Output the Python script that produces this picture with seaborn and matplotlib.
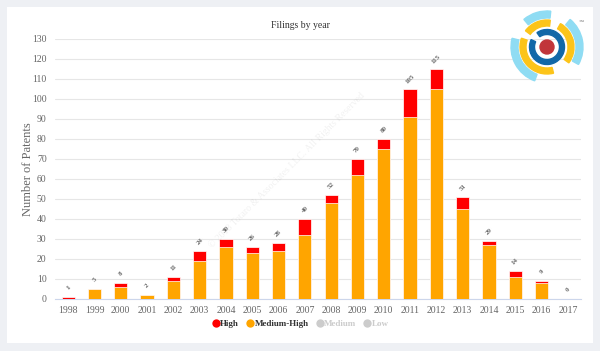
#!/usr/bin/env python

# Imports
import numpy as np
import pandas as pd
import seaborn as sns
import matplotlib.pyplot as plt
from matplotlib.patches import Wedge, Circle, Rectangle
from matplotlib.lines import Line2D

# Data
years = ['1998', '1999', '2000', '2001', '2002', '2003', '2004', '2005', '2006', '2007',
         '2008', '2009', '2010', '2011', '2012', '2013', '2014', '2015', '2016', '2017']
medium_high = [0, 5, 6, 2, 9, 19, 26, 23, 24, 32, 48, 62, 75, 91, 105, 45, 27, 11, 8, 0]
high = [1, 0, 2, 0, 2, 5, 4, 3, 4, 8, 4, 8, 5, 14, 10, 6, 2, 3, 1, 0]
legend_labels = ['High', 'Medium-High', 'Medium', 'Low']

# Colors
colors = {'High': '#ff0000', 'Medium-High': '#ffa500', 'Medium': '#cccccc', 'Low': '#cccccc'}
text_gray = '#666666'

df = pd.DataFrame({'year': years, 'medium_high': medium_high, 'high': high})
df['total'] = df['medium_high'] + df['high']

sns.set_style("white")
plt.rcParams['font.family'] = ['Liberation Serif', 'DejaVu Serif']

W, H = 600, 351
fig = plt.figure(figsize=(6, 3.51), dpi=100, facecolor='#eef0f4')

# white card
fig.patches.append(Rectangle((7 / W, 1 - 343 / H), 586 / W, 336 / H, transform=fig.transFigure,
                             facecolor='white', edgecolor='none', zorder=-10))

ax = fig.add_axes([55 / W, 1 - 299 / H, 526 / W, 260 / H])
ax.set_facecolor('none')

# stacked bars: total in red, medium-high drawn over it
sns.barplot(data=df, x='year', y='total', color=colors['High'], saturation=1, width=0.5,
            edgecolor='white', linewidth=0.5, ax=ax, zorder=3)
sns.barplot(data=df, x='year', y='medium_high', color=colors['Medium-High'], saturation=1, width=0.5,
            edgecolor='white', linewidth=0.5, ax=ax, zorder=4)

# totals above the bars
for i, t in enumerate(df['total']):
    ax.annotate(str(t), xy=(i, t), xytext=(0, 7), textcoords='offset points',
                ha='center', va='center', rotation=45, fontsize=5, fontweight='bold',
                color=text_gray, zorder=5)

ax.set_ylim(0, 130)
ax.set_xlim(-0.5, len(years) - 0.5)
ax.set_yticks(np.arange(0, 131, 10))
ax.yaxis.grid(True, color='#e6e6e6', linewidth=0.8, zorder=0)
ax.set_axisbelow(True)

for side in ['top', 'right', 'left']:
    ax.spines[side].set_visible(False)
ax.spines['bottom'].set_color('#ccd6eb')
ax.spines['bottom'].set_linewidth(0.8)

ax.set_xticks(np.arange(-0.5, len(years), 1), minor=True)
ax.tick_params(axis='x', which='major', length=0, pad=5, labelsize=7, labelcolor=text_gray)
ax.tick_params(axis='x', which='minor', length=4, width=0.8, color='#ccd6eb')
ax.tick_params(axis='y', length=0, pad=6, labelsize=7, labelcolor=text_gray)

ax.set_xlabel('')
ax.set_ylabel('Number of Patents', fontsize=9, color=text_gray)
ax.yaxis.set_label_coords(-21 / 526, 0.5)

fig.text(300 / W, 1 - 25 / H, 'Filings by year', ha='center', va='center', fontsize=7, color='#333333')

# watermark
fig.text(287 / W, 1 - 170 / H, '\u00a9 2018 Totaro & Associates LLC. All Rights Reserved',
         ha='center', va='center', rotation=45, fontsize=7, color='#000000', alpha=0.06)

# legend
handles = []
for lab in legend_labels:
    handles.append(Line2D([], [], linestyle='none', marker='o', markersize=6,
                          markerfacecolor=colors[lab], markeredgecolor='none', label=lab))
leg = fig.legend(handles=handles, loc='center', bbox_to_anchor=(0.5, 1 - 324 / H), ncol=4,
                 frameon=False, handletextpad=0.0, columnspacing=0.7, handlelength=1.0,
                 prop={'size': 6.5, 'weight': 'bold'})
for txt, lab in zip(leg.get_texts(), legend_labels):
    txt.set_color('#333333' if lab in ('High', 'Medium-High') else '#cccccc')

# logo
lax = fig.add_axes([509 / W, 1 - 85 / H, 76 / W, 76 / H])
lax.set_xlim(-38, 38)
lax.set_ylim(-38, 38)
lax.set_aspect('equal')
lax.axis('off')
light_blue, yellow, dark_blue = '#8fdcf3', '#fcc419', '#1268a8'
for t1, t2 in [(84, 130), (-29, 50), (166, 250)]:
    lax.add_patch(Wedge((0, 0), 36, t1, t2, width=7, color=light_blue))
for t1, t2 in [(83, 143), (161, 284), (-36, 60)]:
    lax.add_patch(Wedge((0, 0), 27, t1, t2, width=6, color=yellow))
lax.add_patch(Wedge((0, 0), 17.5, 155, 485, width=5, color=dark_blue))
lax.add_patch(Circle((0, 0), 7, color='#c1353a'))
fig.text(581 / W, 1 - 21 / H, '\u2122', ha='center', va='center', fontsize=3.5, color='#555555')

fig.savefig('out.png', dpi=100, facecolor=fig.get_facecolor())
